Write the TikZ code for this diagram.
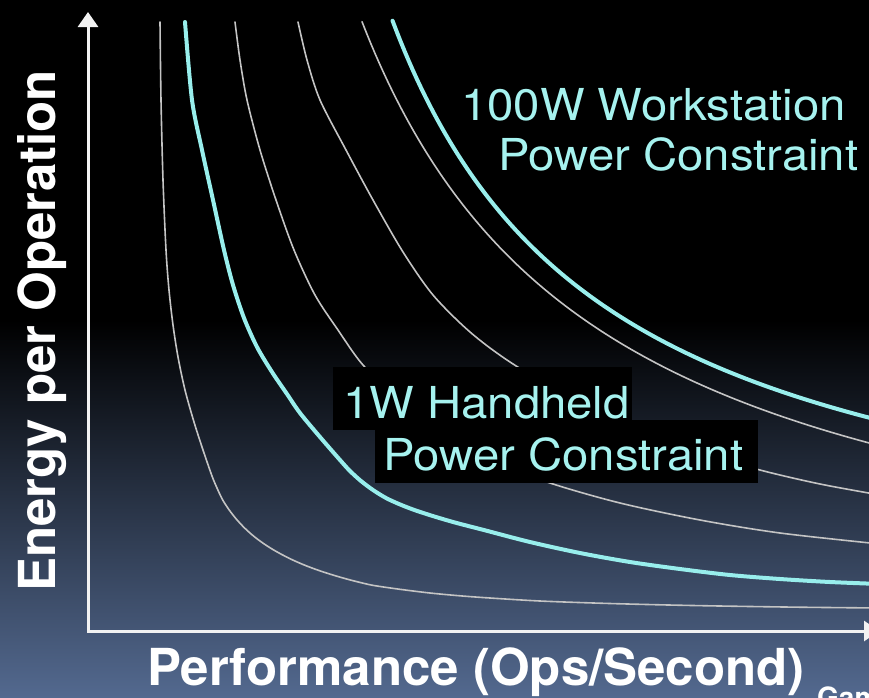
\documentclass[tikz,border=0pt]{standalone}
\usepackage{fontspec}
\setmainfont{TeX Gyre Heros}
\usetikzlibrary{arrows.meta}

\definecolor{cyanline}{HTML}{98EEEC}
\definecolor{labelcyan}{HTML}{A6F2EF}
\definecolor{thingrey}{HTML}{C4C4C4}
\definecolor{slate}{HTML}{53698F}
\definecolor{axiswhite}{HTML}{F2F2F2}

\tikzset{
  axisline/.style={draw=axiswhite, line width=3pt,
    {Triangle[length=15pt,width=20pt]}-{Triangle[length=15pt,width=20pt]}},
  thincurve/.style={draw=thingrey, line width=1.6pt, line cap=round},
  powercurve/.style={draw=cyanline, line width=4pt, line cap=round},
  axislabel/.style={text=white, font=\fontsize{51}{60}\selectfont\bfseries, inner sep=0pt},
  curvelabel/.style={text=labelcyan, font=\fontsize{44}{52}\selectfont,
    inner sep=0pt, anchor=base west, transform shape, xscale=1.075},
  plate/.style={fill=black},
}

\begin{document}
\begin{tikzpicture}[x=1pt,y=-1pt]
\useasboundingbox (0,0) rectangle (869,697);

% background: black top fading to slate blue at the bottom
\fill[black] (0,0) rectangle (869,325);
\shade[top color=black, bottom color=slate] (0,320) rectangle (869,697);

% family of constant-power curves, innermost first
\draw[thincurve] plot[smooth, tension=0.5] coordinates {
  (160,22) (161,100) (163,180) (166,250) (169,290) (173,325) (178,357)
  (185,390) (194,422) (203,450) (212,476) (217,488) (222.5,499.6)
  (229,509.7) (236.4,519.2) (244.6,528) (253.5,536) (263.1,543.2)
  (273.2,549.7) (283.7,555.5) (294.5,560.8) (305.5,565.5) (316.7,569.7)
  (328.1,573.5) (339.6,577) (351.2,580.2) (362.8,583.1) (374.5,585.6)
  (400,589.3) (430,593) (460,595.8) (490,598) (540,601) (600,603.2)
  (660,604.8) (720,606) (800,607.2) (880,608)};
\draw[powercurve] plot[smooth, tension=0.5] coordinates {
  (185,22) (192,100) (202,150) (213,200) (224,250) (233,285) (244,318)
  (257,347) (272,372) (287,394) (300,413) (320,437) (340,460) (350,471)
  (361,481) (373,490) (386,498) (399,504) (413,509.5) (428,514.5)
  (442,518.8) (456,522.8) (471,526.7) (485,530.3) (530,542) (580,553)
  (630,562) (680,569) (730,575) (780,579) (830,582) (880,584)};
\draw[thincurve] plot[smooth, tension=0.5] coordinates {
  (235,22) (240,60) (247,100) (260,150) (276,200) (294,250) (315,295)
  (338,330) (363,365) (400,400) (450,436) (500,463) (550,483) (620,503)
  (700,520) (780,533) (880,544)};
\draw[thincurve] plot[smooth, tension=0.5] coordinates {
  (298,22) (307,60) (320,100) (346,150) (373,200) (403,252) (433,295)
  (470,332) (510,362) (570,398) (630,427) (700,452) (760,470) (820,484)
  (880,495)};
\draw[thincurve] plot[domain=362:880, samples=120]
  (\x, {644 - 1506/((\x-120)/100)});
\draw[powercurve] plot[domain=392.5:880, samples=120]
  (\x, {598 - 1250/((\x-176)/100)});

% axes
\coordinate (origin) at (88,631);
\coordinate (ytip) at (88,12);
\coordinate (xtip) at (879,631);
\draw[axisline] (ytip) -- (origin) -- (xtip);

% axis titles
\node[axislabel, anchor=base] (xtitle) at (476,685) {Performance (Ops/Second)};
\node[axislabel, anchor=base, rotate=90] (ytitle) at (55,331) {Energy per Operation};

% workstation label
\node[curvelabel] (ws1) at (461,120) {100W Workstation};
\node[curvelabel] (ws2) at (498,170) {Power Constraint};

% handheld label on black plates
\fill[plate] (333,367) rectangle (632,430);
\fill[plate] (375,420) rectangle (758,483);
\node[curvelabel] (hh1) at (343,418) {1W Handheld};
\node[curvelabel] (hh2) at (383,470) {Power Constraint};

% footer text running off the page
\node[text=white, font=\fontsize{28}{32}\selectfont\bfseries, anchor=base west,
  inner sep=0pt] (footer) at (817,707) {Gam};
\end{tikzpicture}
\end{document}
